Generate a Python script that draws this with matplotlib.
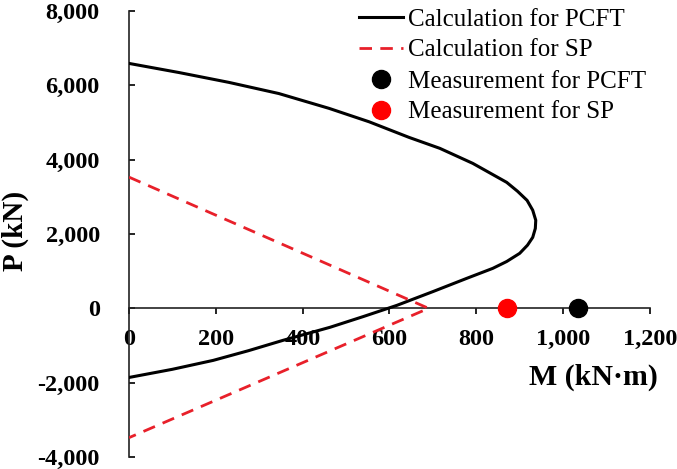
import matplotlib
matplotlib.use('Agg')
import matplotlib.pyplot as plt
from matplotlib.ticker import FuncFormatter

plt.rcParams['font.family'] = ['Liberation Serif', 'DejaVu Serif']

# interaction curve for PCFT
pcft_m = [0, 115, 230, 345, 461, 553, 645, 716, 792, 870, 895, 917, 930, 937,
          936, 930, 918, 900, 870, 838, 778, 700, 617, 540, 463, 355, 275, 194, 100, 0]
pcft_p = [6590, 6345, 6080, 5780, 5380, 5020, 4600, 4305, 3900, 3390, 3150, 2905, 2640, 2370,
          2150, 1910, 1700, 1480, 1260, 1076, 807, 450, 80, -220, -510, -860, -1140, -1400, -1640, -1860]

# interaction curve for SP
sp_m = [0, 690, 0]
sp_p = [3530, 0, -3480]

# measured points
meas_pcft = (1035, 0)
meas_sp = (871, 0)

fig = plt.figure(figsize=(6.77, 4.69), dpi=100)
ax = fig.add_axes([0.1906, 0.0256, 0.7694, 0.9509])

ax.plot(pcft_m, pcft_p, color='black', lw=2.2, label='Calculation for PCFT', zorder=3)
ax.plot(sp_m, sp_p, color='#e8202a', lw=2.0, ls=(0, (4.5, 3)), label='Calculation for SP', zorder=3)
ax.plot(*meas_pcft, 'o', color='black', ms=13, label='Measurement for PCFT', zorder=4, clip_on=False)
ax.plot(*meas_sp, 'o', color='red', ms=13, label='Measurement for SP', zorder=4, clip_on=False)

ax.set_xlim(0, 1200)
ax.set_ylim(-4000, 8000)
ax.set_xticks(range(0, 1201, 200))
ax.set_yticks(range(-4000, 8001, 2000))
fmt = FuncFormatter(lambda v, p: f'{int(v):,}')
ax.xaxis.set_major_formatter(fmt)
ax.yaxis.set_major_formatter(fmt)

ax.spines['top'].set_visible(False)
ax.spines['right'].set_visible(False)
ax.spines['bottom'].set_position(('data', 0))
for s in ['left', 'bottom']:
    ax.spines[s].set_linewidth(1.2)
    ax.spines[s].set_color('#222222')

ax.tick_params(axis='x', direction='out', length=4, width=1.2, pad=11, labelsize=17.5)
ax.tick_params(axis='y', direction='in', length=4, width=1.2, pad=21, labelsize=17.5)
for lab in ax.get_xticklabels() + ax.get_yticklabels():
    lab.set_fontweight('bold')

fig.text(0.022, 0.508, 'P (kN)', rotation=90, fontsize=21, fontweight='bold',
         ha='center', va='center')
fig.text(0.877, 0.196, 'M (kN\u00b7m)', fontsize=21.5, fontweight='bold',
         ha='center', va='center')

leg = ax.legend(loc='upper right', bbox_to_anchor=(646 / 677, 1 - 8 / 469),
                bbox_transform=fig.transFigure, frameon=False,
                fontsize=18, handlelength=1.75, handletextpad=0.2,
                labelspacing=0.34, borderaxespad=0.0, borderpad=0.0, markerscale=1.0)

fig.savefig('out.png', dpi=100)
